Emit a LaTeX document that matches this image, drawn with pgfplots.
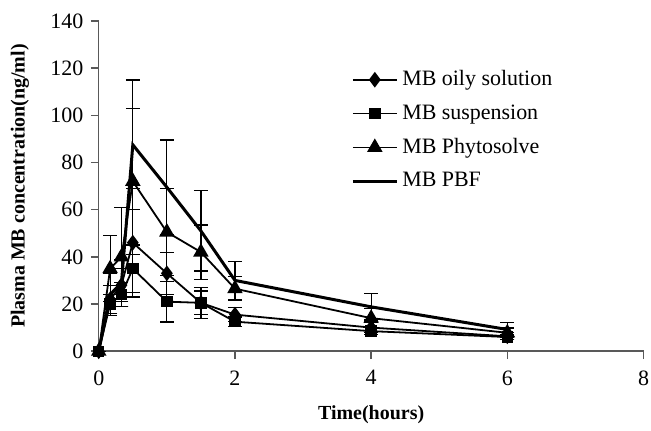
\documentclass[border=0pt]{standalone}
\usepackage{pgfplots}
\pgfplotsset{compat=1.18}
\usetikzlibrary{calc}
\usepackage{fontspec}
\setmainfont{Liberation Serif}
\begin{document}
\begin{tikzpicture}
\begin{axis}[
  name=ax,
  scale only axis, width=273pt, height=165.5pt,
  xmin=0, xmax=8, ymin=0, ymax=140,
  xtick={0,2,4,6,8}, ytick={0,20,...,140},
  axis lines=left, axis line style={gray!70!black, line width=0.7pt, -},
  tick style={gray!70!black, line width=0.7pt},
  tick align=outside, major tick length=4pt,
  /pgf/number format/assume math mode=true,
  tick label style={font=\fontsize{11}{13}\selectfont, inner sep=1pt},
  xticklabel style={yshift=-4.5pt},
  yticklabel style={xshift=-2.5pt},
  xlabel={\textbf{Time(hours)}}, ylabel={\textbf{Plasma MB concentration(ng/ml)}},
  label style={font=\fontsize{11.3}{13}\selectfont},
  every axis x label/.style={at={(axis description cs:0.5,0)}, anchor=center, yshift=-32pt},
  every axis y label/.style={at={(axis description cs:0,0.5)}, anchor=center, rotate=90, yshift=39.5pt},
  legend style={draw=none, fill=none, at={(0.452,0.875)}, anchor=north west,
    font=\fontsize{11}{13}\selectfont, row sep=4pt, legend cell align=left},
  legend image code/.code={\draw[#1] (0pt,0pt) -- (22pt,0pt); \draw[#1, only marks] plot coordinates {(11pt,0pt)};},
  every axis plot/.append style={black, line width=0.9pt},
  error bars/error bar style={black, line width=0.6pt},
  error bars/error mark options={rotate=90, mark size=3.5pt, black, line width=0.6pt},
]
\addplot[mark=diamond*, mark size=3.2pt, error bars/.cd, y dir=both, y explicit]
 table[x=x, y=y, y error=e] {
x y e
0 0 0
0.167 22 6
0.333 28 7
0.5 46 23
1 33 9
1.5 20.5 6.5
2 15.5 3
4 10 2
6 6.3 1.5
};
\addlegendentry{MB oily solution}
\addplot[mark=square*, mark size=2.4pt, error bars/.cd, y dir=both, y explicit]
 table[x=x, y=y, y error=e] {
x y e
0 0 0
0.167 20 4
0.333 24 5
0.5 35 10
1 21 8.6
1.5 20.5 5
2 12.5 2
4 8.5 1.5
6 6 1
};
\addlegendentry{MB suspension}
\addplot[mark=triangle*, mark size=3.6pt, error bars/.cd, y dir=both, y explicit]
 table[x=x, y=y, y error=e] {
x y e
0 0 0
0.167 35 14
0.333 40 21
0.5 72 31
1 50.5 18.5
1.5 42 11.5
2 26.5 5
4 14 4
6 7.8 2
};
\addlegendentry{MB Phytosolve}
\addplot[no marks, line width=1.5pt, error bars/.cd, y dir=both, y explicit]
 table[x=x, y=y, y error=e] {
x y e
0 0 0
0.167 24 9
0.333 29 10
0.5 87.5 27.5
1 69.5 20
1.5 51 17
2 30 8
4 18.8 5.6
6 9.2 3
};
\addlegendentry{MB PBF}
\end{axis}
\path ($(ax.south west)+(-49.5pt,-36.5pt)$) rectangle ($(ax.north east)+(3pt,10.5pt)$);
\end{tikzpicture}
\end{document}
